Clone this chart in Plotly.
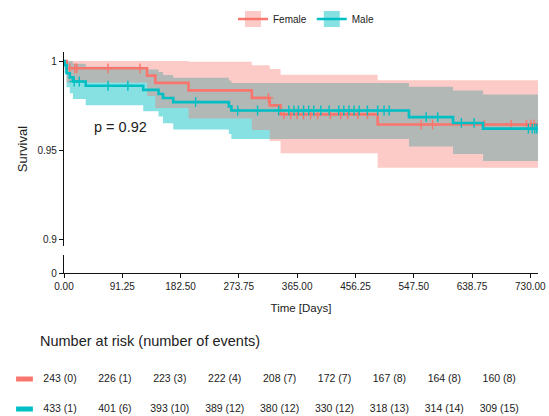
import plotly.graph_objects as go

# The page body margin is removed after plotting, so the figure fills the window.
OFF_X, OFF_Y = 0, 0
WIN_W, WIN_H = 549, 416
W, H = WIN_W - OFF_X, WIN_H - OFF_Y


def px(x):
    return (x - OFF_X) / W


def py(y):
    return 1 - (y - OFF_Y) / H


# ---------------- data ----------------
time_ticks = [0, 91.25, 182.5, 273.75, 365, 456.25, 547.5, 638.75, 730]
time_tick_labels = ["0.00", "91.25", "182.50", "273.75", "365.00",
                    "456.25", "547.50", "638.75", "730.00"]
surv_ticks = [0.9, 0.95, 1.0]
surv_tick_labels = ["0.9", "0.95", "1"]

female_time = [0, 4, 130, 143, 195, 294, 322, 339, 491, 742]
female_surv = [1.0, 0.9959, 0.9918, 0.9877, 0.9835, 0.9793, 0.9751, 0.9700, 0.9643, 0.9643]
female_upper = [1.0, 1.0, 1.0, 1.0, 0.9996, 0.9976, 0.9955, 0.9923, 0.9892, 0.9892]
female_lower = [1.0, 0.9879, 0.9803, 0.9736, 0.9677, 0.9613, 0.9551, 0.9482, 0.9400, 0.9400]
female_censor = [9, 17, 20, 69, 119, 320, 344, 355, 365, 375, 386, 397, 417, 433,
                 444, 460, 475, 559, 577, 658, 700, 724, 731, 736]

male_time = [0, 1, 4, 9, 14, 34, 124, 148, 155, 171, 258, 262, 540, 609, 656, 742]
male_surv = [1.0, 0.9977, 0.9931, 0.9908, 0.9885, 0.9861, 0.9838, 0.9815, 0.9792,
             0.9769, 0.9745, 0.9722, 0.9685, 0.9652, 0.9620, 0.9620]
male_upper = [1.0, 1.0, 1.0, 0.9998, 0.9985, 0.9968, 0.9952, 0.9938, 0.9922,
              0.9906, 0.9890, 0.9876, 0.9855, 0.9834, 0.9812, 0.9812]
male_lower = [1.0, 0.9932, 0.9853, 0.9819, 0.9786, 0.9752, 0.9718, 0.9688, 0.9650,
              0.9615, 0.9590, 0.9562, 0.9520, 0.9478, 0.9438, 0.9438]
male_censor = [16, 24, 69, 100, 206, 272, 303, 336, 352, 360, 367, 375, 383, 391,
               402, 415, 430, 438, 446, 454, 462, 475, 491, 501, 509, 567, 585,
               622, 642, 727, 733, 737, 740]

female_at_risk = [243, 226, 223, 222, 208, 172, 167, 164, 160]
female_events = [0, 1, 3, 4, 7, 7, 8, 8, 8]
male_at_risk = [433, 401, 393, 389, 380, 330, 318, 314, 309]
male_events = [1, 6, 10, 12, 12, 12, 13, 14, 15]

p_value_text = "p = 0.92"
risk_title = "Number at risk (number of events)"

# ---------------- style ----------------
RED = "#F8766D"
TEAL = "#00BFC4"
RED_FILL = "rgba(248,118,109,0.38)"
TEAL_FILL = "rgba(0,191,196,0.47)"
FONT = "Liberation Sans, Arial, sans-serif"
TXT = "#222222"


def surv_at(t, times, surv):
    idx = 0
    for i, tt in enumerate(times):
        if tt <= t:
            idx = i
    return surv[idx]


fig = go.Figure()

# confidence bands: teal first, pink on top
for times, up, lo, fillc in [(male_time, male_upper, male_lower, TEAL_FILL),
                             (female_time, female_upper, female_lower, RED_FILL)]:
    fig.add_trace(go.Scatter(x=times, y=up, mode="lines", line=dict(width=0, shape="hv"),
                             showlegend=False, hoverinfo="skip", xaxis="x", yaxis="y"))
    fig.add_trace(go.Scatter(x=times, y=lo, mode="lines", line=dict(width=0, shape="hv"),
                             fill="tonexty", fillcolor=fillc,
                             showlegend=False, hoverinfo="skip", xaxis="x", yaxis="y"))

# survival curves + censor marks
for times, surv, cens, col in [(female_time, female_surv, female_censor, RED),
                               (male_time, male_surv, male_censor, TEAL)]:
    fig.add_trace(go.Scatter(x=times, y=surv, mode="lines",
                             line=dict(color=col, width=2.6, shape="hv"),
                             showlegend=False, xaxis="x", yaxis="y"))
    fig.add_trace(go.Scatter(x=cens, y=[surv_at(t, times, surv) for t in cens],
                             mode="markers",
                             marker=dict(symbol="cross-thin", size=7,
                                         line=dict(color=col, width=1.4)),
                             showlegend=False, xaxis="x", yaxis="y"))

# legend entries (light box with the group's line through it)
for name, col, fillc in [("Female", RED, RED_FILL), ("Male", TEAL, TEAL_FILL)]:
    fig.add_trace(go.Scatter(x=[None], y=[None], name=name, mode="lines+markers",
                             line=dict(color=col, width=2.4),
                             marker=dict(symbol="square", size=16, color=fillc,
                                         line=dict(width=0)),
                             xaxis="x", yaxis="y"))

# empty trace so the lower (broken) axis panel is drawn
fig.add_trace(go.Scatter(x=[None], y=[None], mode="markers", showlegend=False,
                         hoverinfo="skip", xaxis="x2", yaxis="y2"))

# risk table (on its own hidden axes)
for row, (risk, ev, col) in enumerate([(female_at_risk, female_events, RED),
                                       (male_at_risk, male_events, TEAL)]):
    fig.add_trace(go.Scatter(x=list(range(len(risk))), y=[row] * len(risk),
                             mode="text",
                             text=[f"{r} ({e})" for r, e in zip(risk, ev)],
                             textposition="middle center",
                             textfont=dict(family=FONT, size=10.5, color=TXT),
                             showlegend=False, hoverinfo="skip",
                             xaxis="x3", yaxis="y3"))
    fig.add_trace(go.Scatter(x=[-0.647], y=[row], mode="markers",
                             marker=dict(symbol="line-ew", size=12,
                                         line=dict(color=col, width=5)),
                             showlegend=False, hoverinfo="skip",
                             xaxis="x3", yaxis="y3"))

X_DOM = [px(64), px(538)]
X_RANGE = [0, 742]
axis_common = dict(showgrid=False, zeroline=False, showline=True, linecolor="#111",
                   linewidth=1.2, ticks="outside", ticklen=4, tickwidth=1.1,
                   tickcolor="#111", automargin=False, ticklabeloverflow="allow",
                   tickfont=dict(family=FONT, size=10, color=TXT))

# table axes: column i centred at 60 + 54.9*i px, rows at 379 / 409 px
col0, col_step = 60, 54.9
x3_lo = -(col0 - OFF_X) / col_step
x3_hi = x3_lo + W / col_step
r0, r1 = 379, 409
f0, f1 = 1 - (r0 - OFF_Y) / H, 1 - (r1 - OFF_Y) / H
span = 1 / (f1 - f0)
y3_lo = -f0 * span
y3_hi = y3_lo + span

fig.update_layout(
    width=W, height=H,
    margin=dict(l=0, r=0, t=0, b=0, autoexpand=False),
    paper_bgcolor="white", plot_bgcolor="rgba(0,0,0,0)",
    font=dict(family=FONT, color=TXT),
    showlegend=True,
    hovermode=False,
    legend=dict(orientation="h", x=px(306), xanchor="center", y=py(19),
                yanchor="middle", traceorder="normal",
                font=dict(family=FONT, size=10, color=TXT),
                itemwidth=30, bgcolor="rgba(0,0,0,0)"),
    xaxis=dict(domain=X_DOM, anchor="y", range=X_RANGE, visible=False, automargin=False),
    yaxis=dict(domain=[py(246), py(52)], anchor="x",
               range=[0.8961, 1.00506], tickvals=surv_ticks, ticktext=surv_tick_labels,
               title=dict(text="Survival", font=dict(family=FONT, size=13, color=TXT),
                          standoff=6),
               **axis_common),
    xaxis2=dict(domain=X_DOM, anchor="y2", range=X_RANGE, tickvals=time_ticks,
                ticktext=time_tick_labels,
                title=dict(text="Time [Days]", font=dict(family=FONT, size=11.5, color=TXT),
                           standoff=12),
                **axis_common),
    yaxis2=dict(domain=[py(273), py(255)], anchor="x2", range=[0, 0.1],
                tickvals=[0], ticktext=["0"], **axis_common),
    xaxis3=dict(domain=[0, 1], anchor="y3", range=[x3_lo, x3_hi], visible=False,
                automargin=False),
    yaxis3=dict(domain=[0, 1], anchor="x3", range=[y3_lo, y3_hi], visible=False,
                automargin=False),
    annotations=[
        dict(text=p_value_text, x=89, y=0.9629, xref="x", yref="y", showarrow=False,
             xanchor="center", yanchor="middle",
             font=dict(family=FONT, size=14.5, color=TXT)),
        dict(text=risk_title, x=px(38), y=py(341),
             xref="paper", yref="paper", showarrow=False, xanchor="left",
             yanchor="middle", font=dict(family=FONT, size=14.5, color=TXT)),
    ],
)

fig.write_html(
    "out.html",
    config={"displayModeBar": False},
    default_width=f"{W}px",
    default_height=f"{H}px",
    post_script="document.body.style.margin='0';document.body.style.overflow='hidden';",
)
